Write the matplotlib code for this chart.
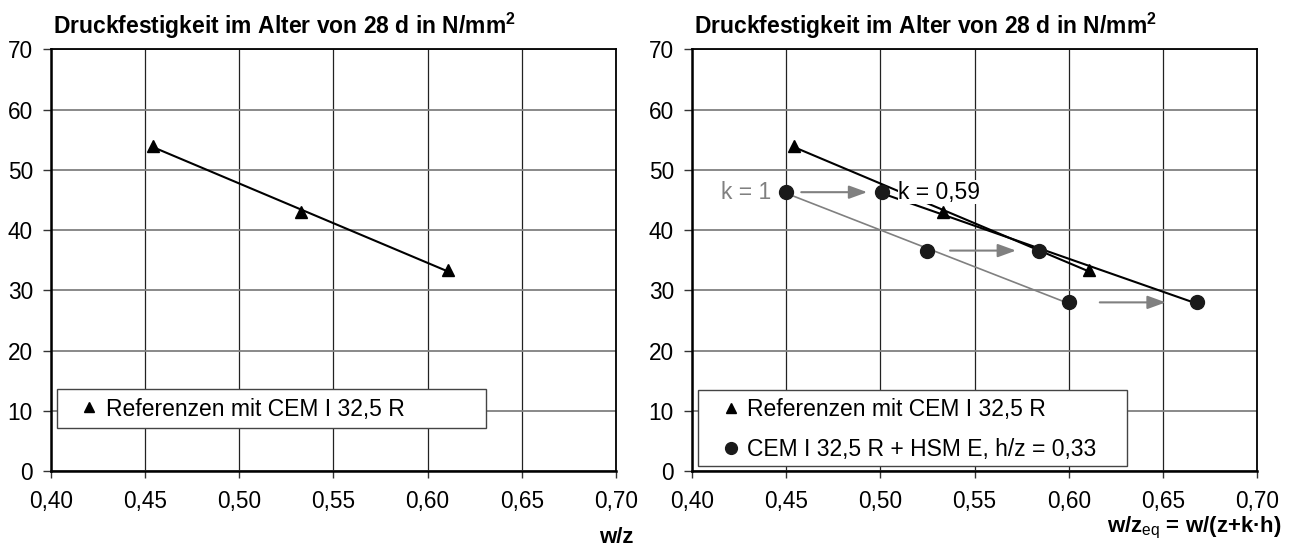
import numpy as np
import matplotlib.pyplot as plt
from matplotlib.patches import Rectangle

plt.rcParams['font.family'] = ['Liberation Sans', 'DejaVu Sans']
plt.rcParams['mathtext.fontset'] = 'custom'
plt.rcParams['mathtext.rm'] = 'Liberation Sans'
plt.rcParams['mathtext.bf'] = 'Liberation Sans:bold'

# Reference concretes (CEM I 32,5 R): w/z and 28 d strength
wz_ref = [0.454, 0.533, 0.611]
f_ref = [54.0, 43.0, 33.3]

# Mixes with HSM E, h/z = 0,33 -> w/z_eq for k = 1 and k = 0,59
wz_k1 = [0.450, 0.525, 0.600]
wz_k059 = [0.501, 0.584, 0.668]
f_hsm = [46.3, 36.6, 28.0]

x_ticks = [0.40, 0.45, 0.50, 0.55, 0.60, 0.65, 0.70]
x_tick_labels = ['0,40', '0,45', '0,50', '0,55', '0,60', '0,65', '0,70']
y_ticks = [0, 10, 20, 30, 40, 50, 60, 70]

title = r'Druckfestigkeit im Alter von 28 d in N/mm$^\mathbf{2}$'
label_ref = 'Referenzen mit CEM I 32,5 R'
label_hsm = 'CEM I 32,5 R + HSM E, h/z = 0,33'

GRAY = '#808080'
FS = 16.5
arrow_len = 0.035


def trend(ax, x, y, color, lw):
    # linear trendline over the range of the points
    a, b = np.polyfit(x, y, 1)
    xs = np.array([min(x), max(x)])
    ax.plot(xs, a * xs + b, color=color, lw=lw, zorder=2, solid_capstyle='butt')


def setup(ax):
    ax.set_xlim(0.40, 0.70)
    ax.set_ylim(0, 70)
    ax.set_xticks(x_ticks)
    ax.set_xticklabels(x_tick_labels)
    ax.set_yticks(y_ticks)
    ax.tick_params(axis='both', labelsize=16.3, color='#333333')
    ax.tick_params(axis='x', length=5, width=1, pad=9)
    ax.tick_params(axis='y', length=6, width=1, pad=7)
    ax.set_axisbelow(True)
    ax.xaxis.grid(True, color='#222222', lw=0.9)
    ax.yaxis.grid(True, color=GRAY, lw=1.3)
    for s in ax.spines.values():
        s.set_color('black')
        s.set_linewidth(1.3)
    ax.spines['left'].set_linewidth(1.8)
    ax.spines['bottom'].set_linewidth(1.8)
    ax.set_title(title, loc='left', fontsize=16.5, fontweight='bold', pad=11, x=0.004)


def legend_box(ax, handles, y0, h, anchor_y):
    ax.add_patch(Rectangle((0.01, y0), 0.76, h, transform=ax.transAxes,
                           facecolor='white', edgecolor='#444444', lw=1.0, zorder=4.5))
    leg = ax.legend(handles=handles, loc='center left', bbox_to_anchor=(0.052, anchor_y),
                    frameon=False, fontsize=FS, handlelength=0.8, handletextpad=0.3,
                    borderpad=0, borderaxespad=0, labelspacing=0.75, markerscale=0.85)
    leg.set_zorder(5)


fig = plt.figure(figsize=(12.93, 5.46), dpi=100)
ax1 = fig.add_axes([0.0394, 0.1374, 0.437, 0.772])
ax2 = fig.add_axes([0.5352, 0.1374, 0.437, 0.772])

# left: reference concretes only
setup(ax1)
trend(ax1, wz_ref, f_ref, 'black', 1.5)
h1, = ax1.plot(wz_ref, f_ref, ls='none', marker='^', ms=9, color='black', zorder=3, label=label_ref)
legend_box(ax1, [h1], 0.101, 0.093, 0.147)
ax1.text(1.0, -0.132, 'w/z', transform=ax1.transAxes, ha='center', va='top',
         fontsize=16, fontweight='bold')

# right: references plus HSM mixes at k = 1 and k = 0,59
setup(ax2)
trend(ax2, wz_ref, f_ref, 'black', 1.5)
trend(ax2, wz_k1, f_hsm, GRAY, 1.2)
trend(ax2, wz_k059, f_hsm, 'black', 1.5)
h2, = ax2.plot(wz_ref, f_ref, ls='none', marker='^', ms=9, color='black', zorder=3, label=label_ref)
ax2.plot(wz_k1, f_hsm, ls='none', marker='o', ms=10, color='#1a1a1a', zorder=3)
h3, = ax2.plot(wz_k059, f_hsm, ls='none', marker='o', ms=10, color='#1a1a1a', zorder=3, label=label_hsm)

for xa, xb, y in zip(wz_k1, wz_k059, f_hsm):
    mid = (xa + xb) / 2
    ax2.annotate('', xy=(mid + arrow_len / 2, y), xytext=(mid - arrow_len / 2, y),
                 arrowprops=dict(arrowstyle='-|>,head_length=1.1,head_width=0.4',
                                 mutation_scale=10, color=GRAY, lw=1.5,
                                 shrinkA=0, shrinkB=0), zorder=3)

ax2.text(wz_k1[0] - 0.008, f_hsm[0], 'k = 1', color=GRAY, fontsize=FS,
         ha='right', va='center', zorder=4)
ax2.text(wz_k059[0] + 0.0085, f_hsm[0], 'k = 0,59', color='black', fontsize=FS,
         ha='left', va='center', zorder=4,
         bbox=dict(facecolor='white', edgecolor='none', pad=0.5))

legend_box(ax2, [h2, h3], 0.012, 0.18, 0.098)
ax2.text(1.044, -0.145, r'w/z$_{\rm eq}$ = w/(z+k·h)', transform=ax2.transAxes,
         ha='right', va='baseline', fontsize=16, fontweight='bold')

fig.savefig('out.png', dpi=100)
